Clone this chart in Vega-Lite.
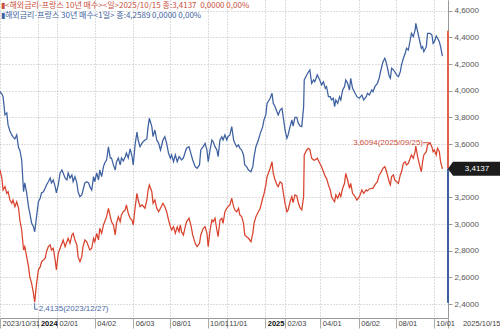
{
"$schema": "https://vega.github.io/schema/vega-lite/v6.json",
"width": 448, "height": 318,
"autosize": {"type": "none"},
"padding": {"left": 0, "top": 0, "right": 52, "bottom": 12},
"background": "white",
"config": {"view": {"stroke": null}},
"title": {"text": "▮<해외금리-프랑스 10년 매수><일>2025/10/15 종:3,4137\u00a0\u00a00,0000 0,00%", "subtitle": "▮해외금리-프랑스 30년 매수<1일> 종:4,2589 0,0000 0,00%", "anchor": "start", "frame": "group", "orient": "top", "offset": -20, "dx": 1, "font": "Noto Sans CJK KR", "fontSize": 8, "fontWeight": "normal", "color": "#c8503c", "subtitleFont": "Noto Sans CJK KR", "subtitleFontSize": 8, "subtitleColor": "#3f62a0", "subtitlePadding": 2},
"data": {"values": [
{"d":"2023-11-01","b":3.992,"r":3.405},{"d":"2023-11-04","b":3.975,"r":3.343},{"d":"2023-11-06","b":3.955,"r":3.255},{"d":"2023-11-09","b":3.818,"r":3.280},{"d":"2023-11-12","b":3.833,"r":3.230},{"d":"2023-11-14","b":3.743,"r":3.242},{"d":"2023-11-17","b":3.698,"r":3.180},{"d":"2023-11-20","b":3.668,"r":3.155},{"d":"2023-11-22","b":3.653,"r":3.180},{"d":"2023-11-25","b":3.638,"r":3.130},{"d":"2023-11-28","b":3.668,"r":3.167},{"d":"2023-12-01","b":3.570,"r":3.118},{"d":"2023-12-03","b":3.555,"r":3.030},{"d":"2023-12-06","b":3.480,"r":2.955},{"d":"2023-12-09","b":3.242,"r":2.805},{"d":"2023-12-11","b":3.308,"r":2.830},{"d":"2023-12-14","b":3.233,"r":2.755},{"d":"2023-12-17","b":3.130,"r":2.680},{"d":"2023-12-19","b":3.083,"r":2.605},{"d":"2023-12-22","b":3.008,"r":2.555},{"d":"2023-12-25","b":2.980,"r":2.480},{"d":"2023-12-27","b":2.942,"r":2.4135},{"d":"2023-12-30","b":3.055,"r":2.555},
{"d":"2024-01-02","b":3.167,"r":2.655},{"d":"2024-01-05","b":3.195,"r":2.680},{"d":"2024-01-07","b":3.233,"r":2.717},{"d":"2024-01-10","b":3.242,"r":2.730},{"d":"2024-01-13","b":3.270,"r":2.743},{"d":"2024-01-15","b":3.293,"r":2.792},{"d":"2024-01-18","b":3.317,"r":2.830},{"d":"2024-01-21","b":3.345,"r":2.843},{"d":"2024-01-23","b":3.308,"r":2.805},{"d":"2024-01-26","b":3.330,"r":2.818},{"d":"2024-01-29","b":3.280,"r":2.730},{"d":"2024-01-31","b":3.233,"r":2.655},{"d":"2024-02-03","b":3.293,"r":2.780},{"d":"2024-02-06","b":3.383,"r":2.818},{"d":"2024-02-09","b":3.405,"r":2.855},{"d":"2024-02-11","b":3.383,"r":2.880},{"d":"2024-02-14","b":3.345,"r":2.830},{"d":"2024-02-17","b":3.330,"r":2.867},{"d":"2024-02-19","b":3.383,"r":2.893},{"d":"2024-02-22","b":3.345,"r":2.855},{"d":"2024-02-25","b":3.368,"r":2.918},{"d":"2024-02-27","b":3.317,"r":2.930},{"d":"2024-03-01","b":3.355,"r":2.880},{"d":"2024-03-04","b":3.308,"r":2.843},{"d":"2024-03-06","b":3.242,"r":2.755},{"d":"2024-03-09","b":3.205,"r":2.717},{"d":"2024-03-12","b":3.218,"r":2.755},{"d":"2024-03-14","b":3.255,"r":2.830},{"d":"2024-03-17","b":3.308,"r":2.880},{"d":"2024-03-20","b":3.317,"r":2.867},{"d":"2024-03-23","b":3.308,"r":2.830},{"d":"2024-03-25","b":3.280,"r":2.805},{"d":"2024-03-28","b":3.255,"r":2.818},{"d":"2024-03-31","b":3.355,"r":2.893},{"d":"2024-04-02","b":3.317,"r":2.867},{"d":"2024-04-05","b":3.383,"r":2.930},{"d":"2024-04-08","b":3.330,"r":2.880},{"d":"2024-04-10","b":3.405,"r":2.968},{"d":"2024-04-13","b":3.355,"r":2.930},{"d":"2024-04-16","b":3.430,"r":2.993},{"d":"2024-04-18","b":3.458,"r":3.017},{"d":"2024-04-21","b":3.480,"r":3.055},{"d":"2024-04-24","b":3.578,"r":3.118},{"d":"2024-04-27","b":3.495,"r":3.055},{"d":"2024-04-29","b":3.495,"r":3.017},{"d":"2024-05-02","b":3.443,"r":2.993},{"d":"2024-05-05","b":3.405,"r":2.918},{"d":"2024-05-07","b":3.465,"r":3.005},{"d":"2024-05-10","b":3.495,"r":3.055},{"d":"2024-05-13","b":3.443,"r":3.017},{"d":"2024-05-15","b":3.495,"r":3.068},{"d":"2024-05-18","b":3.473,"r":3.092},{"d":"2024-05-21","b":3.503,"r":3.105},{"d":"2024-05-23","b":3.533,"r":3.143},{"d":"2024-05-26","b":3.495,"r":3.080},{"d":"2024-05-29","b":3.563,"r":3.043},{"d":"2024-06-01","b":3.510,"r":3.030},{"d":"2024-06-03","b":3.443,"r":2.993},{"d":"2024-06-06","b":3.593,"r":3.120},{"d":"2024-06-09","b":3.690,"r":3.230},{"d":"2024-06-11","b":3.630,"r":3.180},{"d":"2024-06-14","b":3.580,"r":3.130},{"d":"2024-06-17","b":3.605,"r":3.143},{"d":"2024-06-19","b":3.617,"r":3.135},{"d":"2024-06-22","b":3.630,"r":3.118},{"d":"2024-06-25","b":3.638,"r":3.180},{"d":"2024-06-27","b":3.730,"r":3.255},{"d":"2024-06-29","b":3.793,"r":3.293},{"d":"2024-07-03","b":3.730,"r":3.242},{"d":"2024-07-05","b":3.655,"r":3.155},{"d":"2024-07-08","b":3.705,"r":3.180},{"d":"2024-07-11","b":3.630,"r":3.118},{"d":"2024-07-14","b":3.605,"r":3.092},{"d":"2024-07-17","b":3.555,"r":3.118},{"d":"2024-07-21","b":3.630,"r":3.155},{"d":"2024-07-24","b":3.655,"r":3.130},{"d":"2024-07-27","b":3.605,"r":3.092},{"d":"2024-07-30","b":3.530,"r":3.030},{"d":"2024-08-02","b":3.493,"r":2.980},{"d":"2024-08-04","b":3.518,"r":2.955},{"d":"2024-08-07","b":3.467,"r":2.980},{"d":"2024-08-10","b":3.518,"r":2.930},{"d":"2024-08-13","b":3.467,"r":2.978},{"d":"2024-08-16","b":3.505,"r":2.942},{"d":"2024-08-18","b":3.495,"r":2.993},{"d":"2024-08-20","b":3.480,"r":2.942},{"d":"2024-08-23","b":3.495,"r":2.918},{"d":"2024-08-26","b":3.540,"r":2.980},{"d":"2024-08-28","b":3.568,"r":3.017},{"d":"2024-09-01","b":3.580,"r":3.043},{"d":"2024-09-04","b":3.530,"r":2.993},{"d":"2024-09-07","b":3.480,"r":2.918},{"d":"2024-09-11","b":3.430,"r":2.855},{"d":"2024-09-14","b":3.418,"r":2.830},{"d":"2024-09-18","b":3.443,"r":2.855},{"d":"2024-09-20","b":3.555,"r":2.918},{"d":"2024-09-24","b":3.580,"r":2.968},{"d":"2024-09-27","b":3.605,"r":2.980},{"d":"2024-09-30","b":3.555,"r":2.930},{"d":"2024-10-02","b":3.467,"r":2.830},{"d":"2024-10-05","b":3.555,"r":2.955},{"d":"2024-10-08","b":3.630,"r":3.030},{"d":"2024-10-10","b":3.617,"r":3.017},{"d":"2024-10-13","b":3.580,"r":3.043},{"d":"2024-10-16","b":3.555,"r":2.955},{"d":"2024-10-18","b":3.505,"r":2.905},{"d":"2024-10-21","b":3.630,"r":3.030},{"d":"2024-10-24","b":3.655,"r":3.043},{"d":"2024-10-26","b":3.630,"r":3.005},{"d":"2024-10-29","b":3.668,"r":3.092},{"d":"2024-11-01","b":3.630,"r":3.118},{"d":"2024-11-03","b":3.655,"r":3.130},{"d":"2024-11-06","b":3.668,"r":3.143},{"d":"2024-11-09","b":3.730,"r":3.193},{"d":"2024-11-12","b":3.630,"r":3.130},{"d":"2024-11-14","b":3.605,"r":3.105},{"d":"2024-11-17","b":3.580,"r":3.092},{"d":"2024-11-20","b":3.593,"r":3.118},{"d":"2024-11-22","b":3.568,"r":3.068},{"d":"2024-11-25","b":3.555,"r":3.055},{"d":"2024-11-28","b":3.518,"r":3.005},{"d":"2024-11-30","b":3.443,"r":2.918},{"d":"2024-12-03","b":3.430,"r":2.905},{"d":"2024-12-06","b":3.405,"r":2.893},{"d":"2024-12-10","b":3.392,"r":2.867},{"d":"2024-12-13","b":3.430,"r":2.930},{"d":"2024-12-15","b":3.505,"r":3.005},{"d":"2024-12-18","b":3.580,"r":3.055},{"d":"2024-12-22","b":3.630,"r":3.092},{"d":"2024-12-25","b":3.680,"r":3.118},{"d":"2024-12-29","b":3.730,"r":3.195},{"d":"2024-12-31","b":3.780,"r":3.225},
{"d":"2025-01-03","b":3.818,"r":3.293},{"d":"2025-01-05","b":3.905,"r":3.355},{"d":"2025-01-10","b":3.943,"r":3.418},{"d":"2025-01-13","b":3.980,"r":3.467},{"d":"2025-01-15","b":3.905,"r":3.380},{"d":"2025-01-18","b":3.880,"r":3.330},{"d":"2025-01-21","b":3.842,"r":3.293},{"d":"2025-01-23","b":3.818,"r":3.280},{"d":"2025-01-26","b":3.855,"r":3.317},{"d":"2025-01-29","b":3.868,"r":3.305},{"d":"2025-01-31","b":3.805,"r":3.242},{"d":"2025-02-03","b":3.705,"r":3.155},{"d":"2025-02-06","b":3.643,"r":3.092},{"d":"2025-02-08","b":3.668,"r":3.105},{"d":"2025-02-11","b":3.728,"r":3.165},{"d":"2025-02-14","b":3.780,"r":3.205},{"d":"2025-02-16","b":3.735,"r":3.161},{"d":"2025-02-19","b":3.799,"r":3.218},{"d":"2025-02-22","b":3.799,"r":3.210},{"d":"2025-02-24","b":3.761,"r":3.167},{"d":"2025-02-27","b":3.735,"r":3.124},{"d":"2025-03-02","b":3.730,"r":3.105},{"d":"2025-03-05","b":3.880,"r":3.205},{"d":"2025-03-06","b":4.080,"r":3.518},{"d":"2025-03-10","b":4.118,"r":3.555},{"d":"2025-03-13","b":4.142,"r":3.568},{"d":"2025-03-15","b":4.155,"r":3.560},{"d":"2025-03-18","b":4.055,"r":3.493},{"d":"2025-03-21","b":4.080,"r":3.480},{"d":"2025-03-23","b":4.067,"r":3.480},{"d":"2025-03-27","b":4.118,"r":3.493},{"d":"2025-03-31","b":4.080,"r":3.455},{"d":"2025-04-03","b":4.043,"r":3.430},{"d":"2025-04-06","b":4.067,"r":3.392},{"d":"2025-04-09","b":4.018,"r":3.355},{"d":"2025-04-11","b":4.030,"r":3.343},{"d":"2025-04-14","b":3.955,"r":3.293},{"d":"2025-04-17","b":3.955,"r":3.255},{"d":"2025-04-19","b":3.930,"r":3.205},{"d":"2025-04-22","b":3.943,"r":3.180},{"d":"2025-04-24","b":3.880,"r":3.167},{"d":"2025-04-26","b":3.930,"r":3.218},{"d":"2025-04-29","b":3.905,"r":3.193},{"d":"2025-05-02","b":3.955,"r":3.230},{"d":"2025-05-04","b":3.930,"r":3.205},{"d":"2025-05-07","b":4.005,"r":3.268},{"d":"2025-05-10","b":4.030,"r":3.305},{"d":"2025-05-12","b":4.080,"r":3.380},{"d":"2025-05-15","b":4.055,"r":3.330},{"d":"2025-05-18","b":4.005,"r":3.268},{"d":"2025-05-20","b":4.093,"r":3.305},{"d":"2025-05-23","b":4.018,"r":3.230},{"d":"2025-05-27","b":3.980,"r":3.205},{"d":"2025-05-30","b":3.955,"r":3.180},{"d":"2025-06-03","b":3.943,"r":3.205},{"d":"2025-06-07","b":3.968,"r":3.255},{"d":"2025-06-10","b":3.930,"r":3.230},{"d":"2025-06-14","b":3.955,"r":3.255},{"d":"2025-06-16","b":3.980,"r":3.248},{"d":"2025-06-19","b":3.968,"r":3.263},{"d":"2025-06-23","b":4.005,"r":3.268},{"d":"2025-06-25","b":3.992,"r":3.268},{"d":"2025-06-28","b":4.030,"r":3.293},{"d":"2025-07-02","b":4.055,"r":3.317},{"d":"2025-07-05","b":4.095,"r":3.368},{"d":"2025-07-07","b":4.140,"r":3.380},{"d":"2025-07-11","b":4.215,"r":3.418},{"d":"2025-07-14","b":4.243,"r":3.430},{"d":"2025-07-16","b":4.217,"r":3.405},{"d":"2025-07-19","b":4.155,"r":3.355},{"d":"2025-07-21","b":4.110,"r":3.317},{"d":"2025-07-23","b":4.093,"r":3.293},{"d":"2025-07-25","b":4.168,"r":3.355},{"d":"2025-07-28","b":4.155,"r":3.368},{"d":"2025-07-30","b":4.142,"r":3.330},{"d":"2025-08-02","b":4.118,"r":3.317},{"d":"2025-08-05","b":4.105,"r":3.305},{"d":"2025-08-08","b":4.142,"r":3.368},{"d":"2025-08-10","b":4.193,"r":3.392},{"d":"2025-08-13","b":4.243,"r":3.455},{"d":"2025-08-16","b":4.280,"r":3.467},{"d":"2025-08-18","b":4.318,"r":3.443},{"d":"2025-08-21","b":4.305,"r":3.455},{"d":"2025-08-24","b":4.380,"r":3.493},{"d":"2025-08-26","b":4.430,"r":3.518},{"d":"2025-08-29","b":4.405,"r":3.493},{"d":"2025-09-01","b":4.455,"r":3.542},{"d":"2025-09-02","b":4.505,"r":3.585},{"d":"2025-09-05","b":4.442,"r":3.505},{"d":"2025-09-08","b":4.380,"r":3.443},{"d":"2025-09-11","b":4.318,"r":3.392},{"d":"2025-09-13","b":4.330,"r":3.467},{"d":"2025-09-15","b":4.292,"r":3.518},{"d":"2025-09-19","b":4.330,"r":3.542},{"d":"2025-09-21","b":4.430,"r":3.593},{"d":"2025-09-25","b":4.430,"r":3.6094},{"d":"2025-09-28","b":4.418,"r":3.578},{"d":"2025-09-30","b":4.355,"r":3.542},{"d":"2025-10-02","b":4.367,"r":3.555},{"d":"2025-10-05","b":4.410,"r":3.518},{"d":"2025-10-07","b":4.395,"r":3.568},{"d":"2025-10-10","b":4.367,"r":3.542},{"d":"2025-10-12","b":4.330,"r":3.467},{"d":"2025-10-15","b":4.2589,"r":3.4137}
]},
"encoding": {
  "x": {"field": "d", "type": "temporal",
    "scale": {"type": "utc", "domain": [{"year": 2023, "month": 11, "date": 1, "utc": true}, {"year": 2025, "month": 10, "date": 24, "utc": true}]},
    "axis": {"title": null,
      "values": [{"year":2023,"month":11,"date":1,"utc":true},{"year":2024,"month":1,"date":2,"utc":true},{"year":2024,"month":2,"date":1,"utc":true},{"year":2024,"month":4,"date":2,"utc":true},{"year":2024,"month":6,"date":3,"utc":true},{"year":2024,"month":8,"date":1,"utc":true},{"year":2024,"month":10,"date":1,"utc":true},{"year":2024,"month":11,"date":1,"utc":true},{"year":2025,"month":1,"date":2,"utc":true},{"year":2025,"month":2,"date":3,"utc":true},{"year":2025,"month":4,"date":1,"utc":true},{"year":2025,"month":6,"date":2,"utc":true},{"year":2025,"month":8,"date":1,"utc":true},{"year":2025,"month":10,"date":1,"utc":true},{"year":2025,"month":10,"date":24,"utc":true}],
      "labelExpr": "datum.index == 0 ? '2023/10/31' : datum.index == 1 ? '2025/10/15' : (utcFormat(datum.value, '%m-%d') == '01-02' ? utcFormat(datum.value, '%Y') : utcFormat(datum.value, '%m/%d'))",
      "labelOverlap": false, "labelFlush": false, "labelBound": false,
      "labelAlign": {"condition": {"test": "datum.index == 1", "value": "right"}, "value": "left"},
      "labelOffset": {"condition": {"test": "datum.index == 1", "value": 52}, "value": 2},
      "labelBaseline": "top", "labelPadding": -9,
      "labelFont": "Liberation Sans", "labelFontSize": 7.5,
      "labelColor": {"condition": {"test": "utcFormat(datum.value, '%m-%d') == '01-02'", "value": "#111111"}, "value": "#444444"},
      "labelFontWeight": {"condition": {"test": "utcFormat(datum.value, '%m-%d') == '01-02'", "value": "bold"}, "value": "normal"},
      "tickSize": 10, "tickColor": "#aaaaaa", "domainColor": "#999999",
      "grid": true, "gridColor": "#bbbbbb", "gridDash": [1, 2], "gridWidth": 1
    }
  },
  "y": {"field": "v", "type": "quantitative",
    "scale": {"domain": [2.295, 4.68], "nice": false, "zero": false},
    "axis": {"orient": "right", "title": null,
      "values": [2.4, 2.6, 2.8, 3.0, 3.2, 3.4, 3.6, 3.8, 4.0, 4.2, 4.4, 4.6],
      "labelExpr": "replace(format(datum.value, '.4f'), '.', ',')",
      "labelFont": "Liberation Sans", "labelFontSize": 8, "labelColor": "#555555", "labelPadding": 2,
      "labelOverlap": false, "labelBound": false, "labelFlush": false, "labelSeparation": 0,
      "tickColor": "#999999", "tickSize": 4,
      "domainColor": "#999999",
      "grid": true, "gridColor": "#bbbbbb", "gridDash": [1, 2]
    }
  }
},
"layer": [
  {"transform": [{"fold": ["r", "b"], "as": ["s", "v"]}],
   "mark": {"type": "line", "strokeWidth": 1.25},
   "encoding": {"color": {"field": "s", "type": "nominal", "scale": {"domain": ["r", "b"], "range": ["#d9432e", "#3d60a0"]}, "legend": null}}},
  {"data": {"values": [{"v": 3.4137, "v2": 4.45}]},
   "mark": {"type": "rule", "color": "#e0604a", "strokeWidth": 2},
   "encoding": {"x": {"value": "width"}, "y2": {"field": "v2"}}},
  {"data": {"values": [{"v": 2.41, "v2": 3.4137}]},
   "mark": {"type": "rule", "color": "#3d60a0", "strokeWidth": 2},
   "encoding": {"x": {"value": "width"}, "y2": {"field": "v2"}}},
  {"data": {"values": [{"v": 3.4137, "t": "3,4137"}]},
   "mark": {"type": "point", "shape": "M0,0L5,-7L52,-7L52,7L5,7Z", "size": 4, "filled": true, "color": "#1c1c1c", "opacity": 1, "strokeWidth": 0},
   "encoding": {"x": {"value": "width"}}},
  {"data": {"values": [{"v": 3.4137, "t": "3,4137"}]},
   "mark": {"type": "text", "color": "white", "font": "Liberation Sans", "fontSize": 8, "align": "center", "baseline": "middle", "dx": 29},
   "encoding": {"x": {"value": "width"}, "text": {"field": "t"}}},
  {"data": {"values": [{"d": "2023-12-27", "v": 2.4135, "t": "2,4135(2023/12/27)"}]},
   "mark": {"type": "point", "shape": "M0,1L0,7L3,7", "size": 4, "filled": false, "color": "#4a6aa8", "strokeWidth": 1, "opacity": 1}},
  {"data": {"values": [{"d": "2023-12-27", "v": 2.4135, "t": "2,4135(2023/12/27)"}]},
   "mark": {"type": "text", "color": "#4a6aa8", "font": "Liberation Sans", "fontSize": 8, "align": "left", "baseline": "middle", "dx": 4, "dy": 7},
   "encoding": {"text": {"field": "t"}}},
  {"data": {"values": [{"d": "2025-09-25", "v": 3.6094, "t": "3,6094(2025/09/25)"}]},
   "mark": {"type": "point", "shape": "M-1,0L-7,0", "size": 4, "filled": false, "color": "#d0503c", "strokeWidth": 1, "opacity": 1}},
  {"data": {"values": [{"d": "2025-09-25", "v": 3.6094, "t": "3,6094(2025/09/25)"}]},
   "mark": {"type": "text", "color": "#d0503c", "font": "Liberation Sans", "fontSize": 8, "align": "right", "baseline": "middle", "dx": -7},
   "encoding": {"text": {"field": "t"}}}
]
}
